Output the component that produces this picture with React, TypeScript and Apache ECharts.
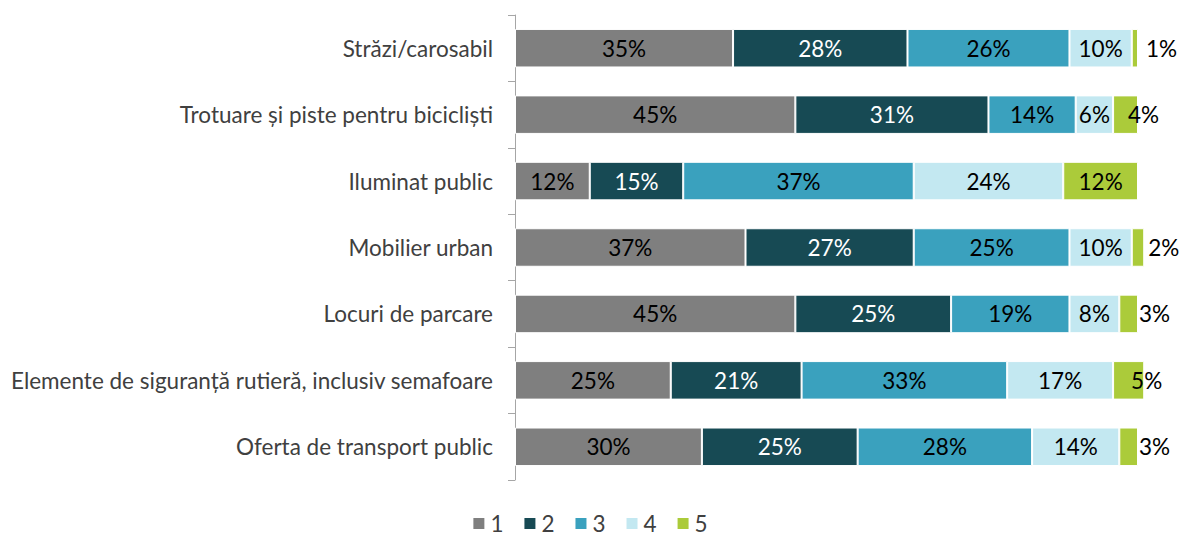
import React, { useEffect, useRef } from "react";
import * as echarts from "echarts";

const categories = [
  "Străzi/carosabil",
  "Trotuare și piste pentru bicicliști",
  "Iluminat public",
  "Mobilier urban",
  "Locuri de parcare",
  "Elemente de siguranță rutieră, inclusiv semafoare",
  "Oferta de transport public",
];

const seriesNames = ["1", "2", "3", "4", "5"];

const score1 = [35, 45, 12, 37, 45, 25, 30];
const score2 = [28, 31, 15, 27, 25, 21, 25];
const score3 = [26, 14, 37, 25, 19, 33, 28];
const score4 = [10, 6, 24, 10, 8, 17, 14];
const score5 = [1, 4, 12, 2, 3, 5, 3];

const values = [score1, score2, score3, score4, score5];
const colors = ["#7F7F7F", "#174A54", "#3AA1BE", "#C3E8F1", "#ABCB3A"];
const labelColors = ["#000000", "#FFFFFF", "#000000", "#000000", "#000000"];

const FONT = "Lato, 'Open Sans', sans-serif";
const FONT_SIZE = 22.5;

export default function App() {
  const ref = useRef<HTMLDivElement>(null);

  useEffect(() => {
    if (!ref.current) return;
    document.body.style.margin = "0";
    document.body.style.overflow = "hidden";
    const chart = echarts.init(ref.current, undefined, { renderer: "svg" });

    const series = values.map((vals, si) => ({
      name: seriesNames[si],
      type: "bar",
      stack: "total",
      barWidth: "58%",
      clip: false,
      itemStyle: { color: colors[si], borderColor: "#FFFFFF", borderWidth: 1 },
      label: {
        show: true,
        position: "inside",
        formatter: "{c}%",
        color: labelColors[si],
        fontFamily: FONT,
        fontSize: FONT_SIZE,
      },
      data: vals.map((v) => {
        // very thin end segments: label sits just past the bar end
        if (si === 4 && v <= 3) {
          return {
            value: v,
            label: { position: "right", distance: Math.max(1, 12 - 4 * v) },
          };
        }
        // narrow end segments: label nudged right so it stays readable
        if (si === 4 && v <= 5) {
          return { value: v, label: { position: "inside", offset: [18, 0] } };
        }
        return v;
      }),
    }));

    chart.setOption({
      animation: false,
      textStyle: { fontFamily: FONT },
      grid: { left: 515, right: 41, top: 15, bottom: 56, containLabel: false },
      legend: {
        data: seriesNames,
        top: 508,
        left: "center",
        padding: 4,
        icon: "rect",
        itemWidth: 13,
        itemHeight: 13,
        itemGap: 19,
        textStyle: { fontSize: FONT_SIZE, color: "#404040", fontFamily: FONT },
      },
      xAxis: {
        type: "value",
        min: 0,
        max: 100,
        show: false,
      },
      yAxis: {
        type: "category",
        data: categories,
        inverse: true,
        axisLine: { show: true, lineStyle: { color: "#A6A6A6", width: 1 } },
        axisTick: { show: true, length: 7, lineStyle: { color: "#A6A6A6" } },
        axisLabel: { fontSize: FONT_SIZE, color: "#404040", margin: 22, fontFamily: FONT },
      },
      series,
    });

    return () => chart.dispose();
  }, []);

  return <div ref={ref} style={{ width: 1179, height: 536 }} />;
}
